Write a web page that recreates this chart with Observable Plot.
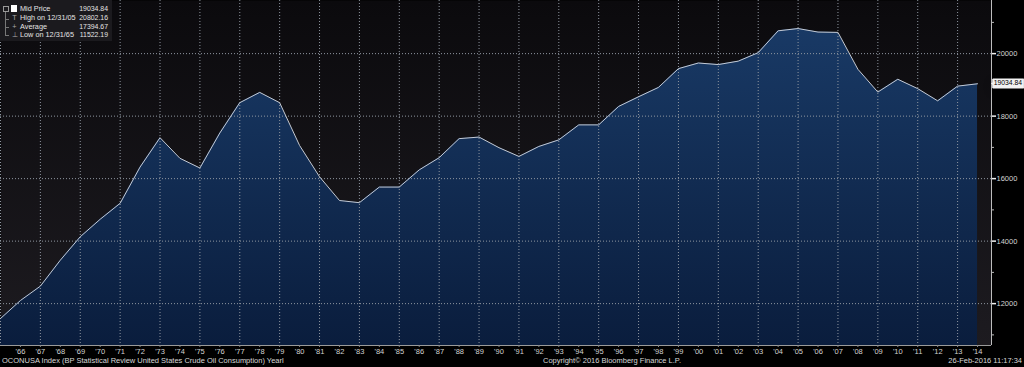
<!DOCTYPE html>
<html><head><meta charset="utf-8">
<script src="https://cdn.jsdelivr.net/npm/d3@7"></script>
<script src="https://cdn.jsdelivr.net/npm/@observablehq/plot@0.6"></script>
<style>
body{margin:0;background:#000;overflow:hidden}
#wrap{position:relative;width:1024px;height:367px;font-family:"Liberation Sans",Arial,sans-serif;}
.foot{position:absolute;top:356px;font-size:7.5px;color:#d8d8d8;white-space:nowrap;line-height:10px}
#legend{position:absolute;left:0px;top:0px;width:112px;height:41px;background:#1b1a1e;font-size:7.3px;color:#e4e4e4}
#legend .row{position:absolute;left:0;width:112px;height:10px;line-height:10px}
#legend .lab{position:absolute;left:20px}
#legend .val{position:absolute;right:4px;font-size:6.9px}
#legend .ic{position:absolute;left:11px;width:7px;text-align:center;color:#aaa}
</style></head>
<body>
<div id="wrap">
  <div id="chart"></div>
  <div id="legend">
    <div style="position:absolute;left:3px;top:6px;width:4px;height:4px;border:1px solid #999"></div>
    <div style="position:absolute;left:5px;top:12px;width:0;height:24px;border-left:1px solid #777"></div>
    <div style="position:absolute;left:5px;top:19px;width:4px;border-top:1px solid #777"></div>
    <div style="position:absolute;left:5px;top:27px;width:4px;border-top:1px solid #777"></div>
    <div style="position:absolute;left:5px;top:35px;width:4px;border-top:1px solid #777"></div>
    <div style="position:absolute;left:11px;top:5px;width:6px;height:7px;background:#fff"></div>
  </div>
  <div class="foot" id="f1" style="left:2px"></div>
  <div class="foot" id="f2" style="left:543px"></div>
  <div class="foot" id="f3" style="right:2px"></div>
</div>
<script>
// ---- data ----
const years = [1965,1966,1967,1968,1969,1970,1971,1972,1973,1974,1975,1976,1977,1978,1979,1980,1981,1982,1983,1984,1985,1986,1987,1988,1989,1990,1991,1992,1993,1994,1995,1996,1997,1998,1999,2000,2001,2002,2003,2004,2005,2006,2007,2008,2009,2010,2011,2012,2013,2014];
const consumption = [11522.19,12100,12560,13390,14140,14700,15210,16370,17310,16650,16340,17460,18430,18760,18430,17060,16060,15300,15230,15730,15730,16280,16670,17280,17330,16990,16710,17030,17240,17720,17720,18310,18620,18920,19520,19700,19650,19760,20030,20730,20802.16,20690,20680,19500,18770,19180,18880,18490,18960,19034.84];
const yTicks = [12000,14000,16000,18000,20000];
const yMinorTicks = [11000,13000,15000,17000,19000,21000];
const legendLabels = ["Mid Price","High on 12/31/05","Average","Low on 12/31/65"];
const legendValues = ["19034.84","20802.16","17394.67","11522.19"];
const legendIcons = ["","T","+","\u22A5"];
const footLeft = "OCONUSA Index (BP Statistical Review United States Crude Oil Consumption)  Yearl";
const footMid = "Copyright\u00A9 2016 Bloomberg Finance L.P.";
const footRight = "26-Feb-2016 11:17:34";
const lastLabel = "19034.84";

const data = years.map((y, i) => ({year: y, value: consumption[i]}));
const xDomain = [1965, 2014.7];
const yDomain = [10660, 21700];
const labelYears = years.slice(1);
const gridYears = years.filter(y => y % 2 === 1);
const last = data[data.length - 1];

const chart = Plot.plot({
  width: 1024,
  height: 367,
  marginTop: 0,
  marginLeft: 0,
  marginRight: 33,
  marginBottom: 22,
  style: {background: "#000", color: "#d4d4d4", fontFamily: "'Liberation Sans', Arial, sans-serif", fontSize: "7.5px"},
  x: {domain: xDomain, label: null},
  y: {domain: yDomain, label: null},
  marks: [
    Plot.frame({fill: "url(#bgGrad)", stroke: "none"}),
    Plot.areaY(data, {x: "year", y1: yDomain[0], y2: "value", fill: "url(#areaGrad)"}),
    Plot.ruleY(yTicks, {stroke: "#8f96a0", strokeOpacity: 1, strokeDasharray: "1,2"}),
    Plot.ruleX(gridYears, {stroke: "#8f96a0", strokeOpacity: 1, strokeDasharray: "1,2"}),
    Plot.line(data, {x: "year", y: "value", stroke: "#c4cad4", strokeWidth: 1}),
    Plot.ruleY([yDomain[0]], {stroke: "#9a9a9a"}),
    Plot.ruleX([xDomain[1]], {stroke: "#bdbdbd"}),
    Plot.axisX({ticks: labelYears, label: null, tickFormat: d => "'" + String(d).slice(2), tickSize: 2, tickPadding: 1, stroke: "#888", fill: "#d4d4d4", fontSize: 7.5}),
    Plot.axisY({anchor: "right", label: null, ticks: yTicks, tickSize: 4, tickPadding: 1, stroke: "#f0f0f0", strokeWidth: 1.5, fill: "#d4d4d4", fontSize: 7.5, tickFormat: d => String(d)}),
    Plot.tickY(yMinorTicks, {y: d => d, frameAnchor: "right", stroke: "#bbb"}),
    Plot.tip([last], {y: "value", frameAnchor: "right", title: () => lastLabel, anchor: "left", fill: "#f2f2f2", stroke: "#f2f2f2", pointerSize: 2.5, textPadding: 1, fontSize: 6.8})
  ]
});

const svg = d3.select(chart);
svg.insert("defs", ":first-child").html(`
  <linearGradient id="bgGrad" gradientUnits="userSpaceOnUse" x1="0" y1="0" x2="0" y2="345">
    <stop offset="0" stop-color="#0b0a0d"/><stop offset="1" stop-color="#1d1b20"/>
  </linearGradient>
  <linearGradient id="areaGrad" gradientUnits="userSpaceOnUse" x1="0" y1="20" x2="0" y2="345">
    <stop offset="0" stop-color="#193a66"/><stop offset="1" stop-color="#0a1d3d"/>
  </linearGradient>`);
svg.selectAll("g[aria-label=tip] text, g[aria-label=tip] tspan").attr("fill", "#000");
// minor ticks: short marks to the right of the axis line
svg.selectAll("g[aria-label=tick] line").each(function() {
  const l = d3.select(this);
  l.attr("x1", 991).attr("x2", 994);
});
document.getElementById("chart").appendChild(chart);

const leg = document.getElementById("legend");
const tops = [4, 13, 21.5, 30];
legendLabels.forEach((l, i) => {
  const r = document.createElement("div");
  r.className = "row";
  r.style.top = tops[i] + "px";
  r.innerHTML = (legendIcons[i] ? `<span class="ic">${legendIcons[i]}</span>` : "") +
    `<span class="lab">${l}</span><span class="val">${legendValues[i]}</span>`;
  leg.appendChild(r);
});
document.getElementById("f1").textContent = footLeft;
document.getElementById("f2").textContent = footMid;
document.getElementById("f3").textContent = footRight;
</script>
</body></html>
